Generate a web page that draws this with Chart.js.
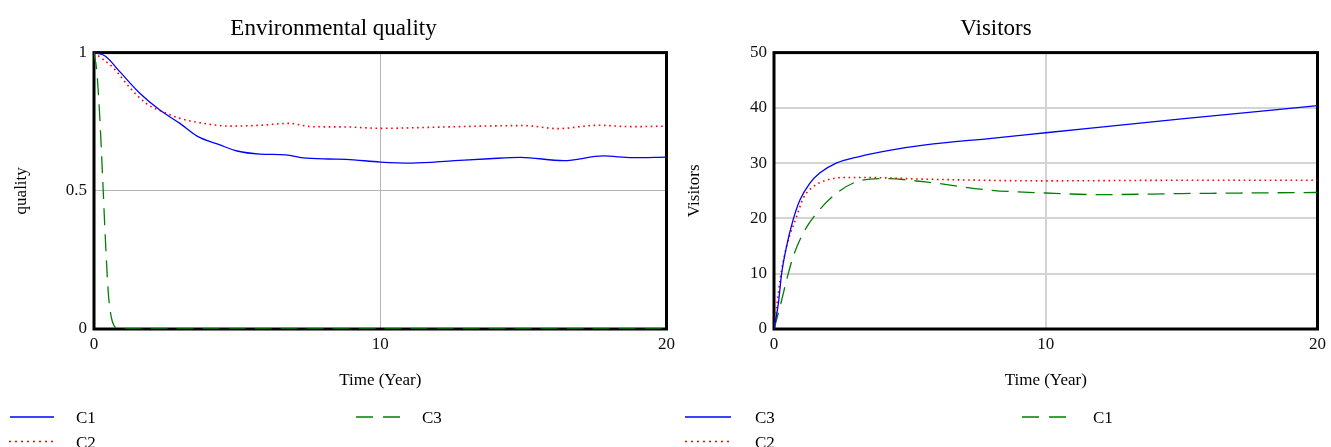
<!DOCTYPE html>
<html>
<head>
<meta charset="utf-8">
<title>Environmental quality / Visitors</title>
<script src="https://cdn.jsdelivr.net/npm/chart.js@4.4.1/dist/chart.umd.min.js"></script>
<style>
  body { margin: 0; background: #fff; width: 1331px; height: 447px; overflow: hidden; position: relative; }
  #qualityChart { position: absolute; left: 0; top: 0; }
  #visitorsChart { position: absolute; left: 670px; top: 0; }
  #legend { position: absolute; left: 0; top: 395px; font-family: 'Liberation Serif', 'Times New Roman', serif; font-size: 17px; }
</style>
</head>
<body>
<canvas id="qualityChart" width="680" height="400"></canvas>
<canvas id="visitorsChart" width="661" height="400"></canvas>

<svg id="legend" width="1331" height="60">
  <!-- left chart legend -->
  <line x1="10" y1="22" x2="54" y2="22" stroke="#0000ff" stroke-width="1.3"/>
  <text x="76" y="28.3">C1</text>
  <line x1="356" y1="22" x2="400" y2="22" stroke="#008000" stroke-width="1.3" stroke-dasharray="17,10"/>
  <text x="422" y="28.3">C3</text>
  <line x1="9" y1="46.5" x2="54" y2="46.5" stroke="#ff0000" stroke-width="1.3" stroke-dasharray="2,4"/>
  <text x="76" y="52.5">C2</text>
  <!-- right chart legend -->
  <line x1="685" y1="22" x2="731" y2="22" stroke="#0000ff" stroke-width="1.3"/>
  <text x="755" y="28.3">C3</text>
  <line x1="1022" y1="22" x2="1070" y2="22" stroke="#008000" stroke-width="1.3" stroke-dasharray="17,10"/>
  <text x="1093" y="28.3">C1</text>
  <line x1="685" y1="46.5" x2="731" y2="46.5" stroke="#ff0000" stroke-width="1.3" stroke-dasharray="2,4"/>
  <text x="755" y="52.5">C2</text>
</svg>

<script>
const FONT = "'Liberation Serif', 'Times New Roman', serif";

// tick labels
const timeTicks = [0, 10, 20];
const qualityTicks = [0, 0.5, 1];
const visitorsTicks = [0, 10, 20, 30, 40, 50];

// Environmental quality, C1
const qC1Time = [0, 0.4, 0.9, 1.6, 2.3, 3.0, 3.6, 4.4, 5.0, 5.8, 6.7, 7.3, 8.2, 8.8, 10, 11.1, 12.6, 13.8, 14.9, 16.4, 17.8, 18.8, 20];
const qC1 = [1, 0.987, 0.931, 0.853, 0.792, 0.744, 0.698, 0.666, 0.644, 0.633, 0.630, 0.619, 0.615, 0.614, 0.604, 0.600, 0.609, 0.616, 0.621, 0.609, 0.626, 0.620, 0.622];

// Environmental quality, C2
const qC2Time = [0, 0.67, 1.26, 1.84, 2.54, 3.0, 3.7, 4.75, 5.8, 6.8, 7.6, 8.8, 10, 11.9, 13.5, 15.0, 16.2, 17.6, 18.8, 20];
const qC2 = [1, 0.945, 0.872, 0.815, 0.78, 0.762, 0.746, 0.734, 0.737, 0.744, 0.732, 0.731, 0.726, 0.730, 0.734, 0.736, 0.725, 0.737, 0.732, 0.734];

// Environmental quality, C3 (collapses in the first year)
const qC3Time = [0, 0.1, 0.2, 0.3, 0.4, 0.5, 0.6, 0.7, 0.8, 0.9, 20];
const qC3 = [1, 0.93, 0.77, 0.55, 0.32, 0.13, 0.045, 0.012, 0.003, 0, 0];

// Visitors, C3
const vC3Time = [0, 0.16, 0.28, 0.46, 0.7, 0.95, 1.31, 1.68, 2.29, 3.14, 4.35, 5.57, 8, 10, 15, 20];
const vC3 = [0, 4.6, 10, 14.9, 19.7, 23.3, 26.3, 28.2, 30.0, 31.2, 32.4, 33.3, 34.5, 35.5, 38.0, 40.4];

// Visitors, C2
const vC2Time = [0, 0.22, 0.46, 0.83, 1.07, 1.43, 1.92, 2.53, 3.38, 5.57, 10, 15, 20];
const vC2 = [0, 8.8, 14.9, 20.3, 23.6, 25.7, 26.9, 27.4, 27.4, 27.1, 26.8, 26.9, 26.9];

// Visitors, C1
const vC1Time = [0, 0.22, 0.46, 0.7, 1.07, 1.56, 2.29, 3.02, 4.1, 5.57, 8, 10, 12, 15, 20];
const vC1 = [0, 4.0, 8.8, 13, 17.3, 20.9, 24.5, 26.6, 27.2, 26.6, 25.1, 24.6, 24.3, 24.5, 24.7];

const points = (xs, ys) => xs.map((x, i) => ({ x, y: ys[i] }));

// line styles per series colour
const solidBlue = { borderColor: '#0000ff', borderWidth: 1.3 };
const dottedRed = { borderColor: '#ff0000', borderWidth: 1.6, borderDash: [1.6, 3.6] };
const dashedGreen = { borderColor: '#008000', borderWidth: 1.3, borderDash: [17, 9] };

// black box round the plot area, drawn under the lines
const frame = {
  id: 'frame',
  beforeDatasetsDraw(chart) {
    const { ctx, chartArea: a } = chart;
    ctx.save();
    ctx.strokeStyle = '#000';
    ctx.lineWidth = 3;
    ctx.strokeRect(a.left, a.top, a.right - a.left, a.bottom - a.top);
    ctx.restore();
  }
};

const makeChart = (canvas, { title, yTitle, yMax, yTicks, yWidth, yTitlePad, rightPad, grid, datasets }) => {
  return new Chart(canvas, {
    type: 'line',
    data: { datasets },
    plugins: [frame],
    options: {
      responsive: false,
      animation: false,
      devicePixelRatio: 1,
      layout: { padding: { left: 0, right: rightPad, top: 0, bottom: 0 } },
      elements: {
        point: { radius: 0 },
        line: { cubicInterpolationMode: 'monotone', fill: false }
      },
      scales: {
        x: {
          type: 'linear',
          min: 0,
          max: 20,
          afterBuildTicks: s => { s.ticks = timeTicks.map(v => ({ value: v })); },
          afterFit: s => { s.height = 71; },
          grid: { color: grid.color, lineWidth: grid.width, drawTicks: false },
          border: { display: false },
          ticks: { color: '#111', font: { family: FONT, size: 17 }, padding: 5, callback: v => String(v) },
          title: {
            display: true, text: 'Time (Year)', color: '#000',
            font: { family: FONT, size: 17 }, padding: { top: 0, bottom: 9 }
          }
        },
        y: {
          min: 0,
          max: yMax,
          afterBuildTicks: s => { s.ticks = yTicks.map(v => ({ value: v })); },
          afterFit: s => { s.width = yWidth; },
          grid: { color: grid.color, lineWidth: grid.width, drawTicks: false },
          border: { display: false },
          ticks: { color: '#111', font: { family: FONT, size: 17 }, padding: 7, callback: v => String(v) },
          title: {
            display: true, text: yTitle, color: '#000',
            font: { family: FONT, size: 17 }, padding: { top: yTitlePad, bottom: 0 }
          }
        }
      },
      plugins: {
        legend: { display: false },
        tooltip: { enabled: false },
        title: {
          display: true,
          text: title,
          color: '#000',
          font: { family: FONT, size: 23, weight: 'normal' },
          padding: { top: 15, bottom: 10 }
        }
      }
    }
  });
};

makeChart(document.getElementById('qualityChart'), {
  title: 'Environmental quality',
  yTitle: 'quality',
  yMax: 1,
  yTicks: qualityTicks,
  yWidth: 94,
  yTitlePad: 11,
  rightPad: 13,
  grid: { color: '#b4b4b4', width: 1 },
  datasets: [
    { label: 'C1', data: points(qC1Time, qC1), ...solidBlue },
    { label: 'C2', data: points(qC2Time, qC2), ...dottedRed },
    { label: 'C3', data: points(qC3Time, qC3), ...dashedGreen }
  ]
});

makeChart(document.getElementById('visitorsChart'), {
  title: 'Visitors',
  yTitle: 'Visitors',
  yMax: 50,
  yTicks: visitorsTicks,
  yWidth: 104,
  yTitlePad: 14,
  rightPad: 9,
  grid: { color: '#d4d4d4', width: 2 },
  datasets: [
    { label: 'C3', data: points(vC3Time, vC3), ...solidBlue },
    { label: 'C2', data: points(vC2Time, vC2), ...dottedRed },
    { label: 'C1', data: points(vC1Time, vC1), ...dashedGreen }
  ]
});
</script>
</body>
</html>
